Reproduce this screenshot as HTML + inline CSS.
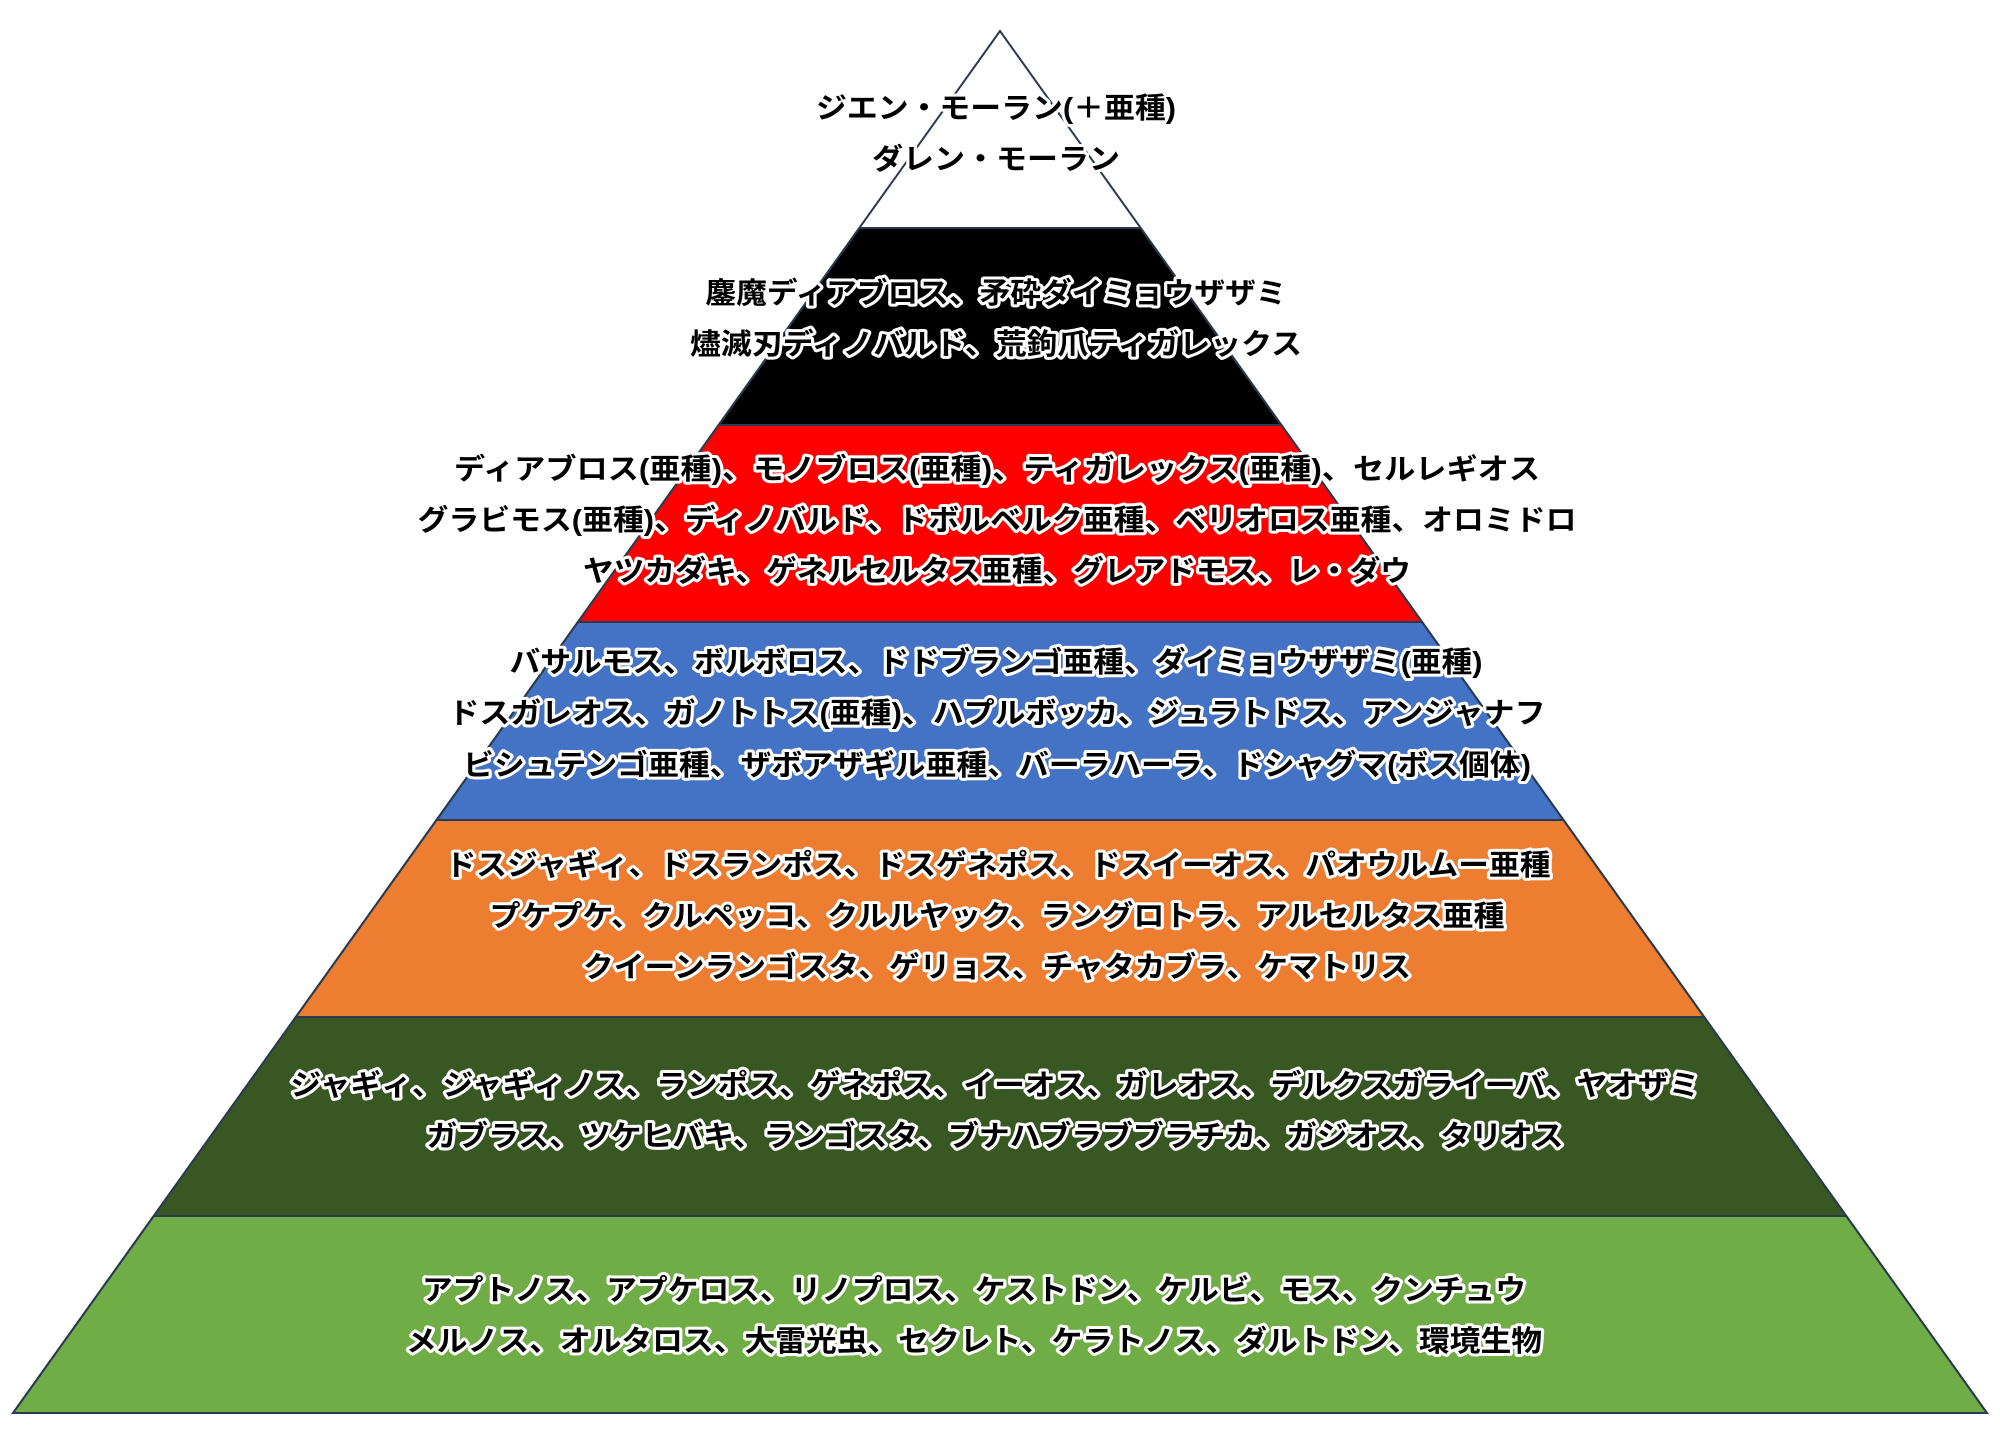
<!DOCTYPE html>
<html><head><meta charset="utf-8"><style>
html,body{margin:0;padding:0;background:#fff;width:2000px;height:1456px;overflow:hidden}
svg{display:block}
text{font-family:"Liberation Sans","Noto Sans CJK JP",sans-serif;font-weight:bold;font-size:29px;fill:#000;stroke:#fff;stroke-width:6px;stroke-linejoin:round;paint-order:stroke;text-anchor:middle}
</style></head><body>
<svg width="2000" height="1456" viewBox="0 0 2000 1456" xmlns="http://www.w3.org/2000/svg">
<g stroke="#2a3a50" stroke-width="2">
<polygon points="859.3,228 1140.7,228 1281.4,425 718.6,425" fill="#000"/>
<polygon points="718.6,425 1281.4,425 1422.1,622 577.9,622" fill="#ff0000"/>
<polygon points="577.9,622 1422.1,622 1563.5,820 436.5,820" fill="#4472c4"/>
<polygon points="436.5,820 1563.5,820 1704.2,1017 295.8,1017" fill="#ed7d31"/>
<polygon points="295.8,1017 1704.2,1017 1846.3,1216 153.7,1216" fill="#385723"/>
<polygon points="153.7,1216 1846.3,1216 1987,1413 13,1413" fill="#70ad47"/>
<polygon points="1000,31 1987,1413 13,1413" fill="none"/>
</g>
<text x="996" y="118" textLength="360" lengthAdjust="spacingAndGlyphs">ジエン・モーラン(＋亜種)</text>
<text x="996" y="169" textLength="248" lengthAdjust="spacingAndGlyphs">ダレン・モーラン</text>
<text x="996" y="303" textLength="581" lengthAdjust="spacingAndGlyphs">鏖魔ディアブロス、矛砕ダイミョウザザミ</text>
<text x="996" y="354" textLength="612" lengthAdjust="spacingAndGlyphs">燼滅刃ディノバルド、荒鉤爪ティガレックス</text>
<text x="997" y="479" textLength="1086" lengthAdjust="spacingAndGlyphs">ディアブロス(亜種)、モノブロス(亜種)、ティガレックス(亜種)、セルレギオス</text>
<text x="997" y="530" textLength="1159" lengthAdjust="spacingAndGlyphs">グラビモス(亜種)、ディノバルド、ドボルベルク亜種、ベリオロス亜種、オロミドロ</text>
<text x="997" y="581" textLength="828" lengthAdjust="spacingAndGlyphs">ヤツカダキ、ゲネルセルタス亜種、グレアドモス、レ・ダウ</text>
<text x="996" y="672" textLength="973" lengthAdjust="spacingAndGlyphs">バサルモス、ボルボロス、ドドブランゴ亜種、ダイミョウザザミ(亜種)</text>
<text x="997" y="723" textLength="1097" lengthAdjust="spacingAndGlyphs">ドスガレオス、ガノトトス(亜種)、ハプルボッカ、ジュラトドス、アンジャナフ</text>
<text x="997" y="775" textLength="1068" lengthAdjust="spacingAndGlyphs">ビシュテンゴ亜種、ザボアザギル亜種、バーラハーラ、ドシャグマ(ボス個体)</text>
<text x="998" y="875" textLength="1105" lengthAdjust="spacingAndGlyphs">ドスジャギィ、ドスランポス、ドスゲネポス、ドスイーオス、パオウルムー亜種</text>
<text x="997" y="926" textLength="1015" lengthAdjust="spacingAndGlyphs">プケプケ、クルペッコ、クルルヤック、ラングロトラ、アルセルタス亜種</text>
<text x="997" y="977" textLength="828" lengthAdjust="spacingAndGlyphs">クイーンランゴスタ、ゲリョス、チャタカブラ、ケマトリス</text>
<text x="995" y="1095" textLength="1409" lengthAdjust="spacingAndGlyphs">ジャギィ、ジャギィノス、ランポス、ゲネポス、イーオス、ガレオス、デルクスガライーバ、ヤオザミ</text>
<text x="995" y="1146" textLength="1137" lengthAdjust="spacingAndGlyphs">ガブラス、ツケヒバキ、ランゴスタ、ブナハブラブブラチカ、ガジオス、タリオス</text>
<text x="974" y="1300" textLength="1104" lengthAdjust="spacingAndGlyphs">アプトノス、アプケロス、リノプロス、ケストドン、ケルビ、モス、クンチュウ</text>
<text x="974" y="1351" textLength="1136" lengthAdjust="spacingAndGlyphs">メルノス、オルタロス、大雷光虫、セクレト、ケラトノス、ダルトドン、環境生物</text>
</svg>
</body></html>
